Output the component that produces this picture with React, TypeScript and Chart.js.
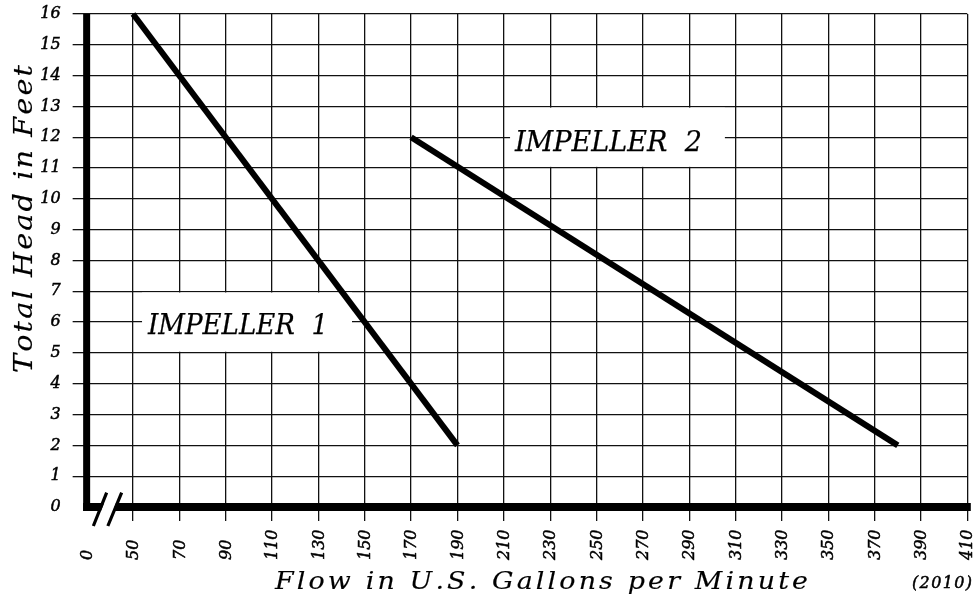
import { useEffect, useRef } from 'react';
import { Chart, registerables } from 'chart.js';

Chart.register(...registerables);

// ---- data ----
const flowTickLabels = ['0', '50', '70', '90', '110', '130', '150', '170', '190', '210', '230', '250', '270', '290', '310', '330', '350', '370', '390', '410'];
const headMin = 0;
const headMax = 16;
const impeller1Flow = [50, 190];
const impeller1Head = [16, 2];
const impeller2Flow = [170, 380];
const impeller2Head = [12, 2];
const curveNames = ['IMPELLER  1', 'IMPELLER  2'];
const xTitle = 'Flow in U.S. Gallons per Minute';
const yTitle = 'Total Head in Feet';
const yearNote = '(2010)';

const FONT = '"DejaVu Serif", "Liberation Serif", serif';
const TICK_STROKE = 0.5;
const TITLE_STROKE = 0.15;

// label boxes in data coordinates
const labelBoxes = [
  { text: curveNames[0], x0: 53.9, x1: 144.5, y0: 5, y1: 7, tx: 56.5, ty: 5.615, tw: 180 },
  { text: curveNames[1], x0: 212.7, x1: 305.4, y0: 11, y1: 13, tx: 214.8, ty: 11.555, tw: 187 },
];

function fillBold(ctx: CanvasRenderingContext2D, text: string, x: number, y: number, sw: number) {
  ctx.fillText(text, x, y);
  if (sw > 0) {
    ctx.lineWidth = sw;
    ctx.strokeStyle = '#000';
    ctx.lineJoin = 'round';
    ctx.strokeText(text, x, y);
  }
}

// draws text from the current origin, glyphs widened by kx, evenly spaced to fill target width
function drawSpaced(ctx: CanvasRenderingContext2D, text: string, target: number, kx: number, sw: number) {
  const chars = Array.from(text);
  const widths = chars.map((c) => ctx.measureText(c).width * kx);
  const sum = widths.reduce((a, b) => a + b, 0);
  const gap = chars.length > 1 ? (target - sum) / (chars.length - 1) : 0;
  let x = 0;
  chars.forEach((c, i) => {
    ctx.save();
    ctx.translate(x, 0);
    ctx.scale(kx, 1);
    fillBold(ctx, c, 0, 0, sw);
    ctx.restore();
    x += widths[i] + gap;
  });
}

const decor = {
  id: 'decor',
  beforeDatasetsDraw(chart: any) {
    const { ctx } = chart;
    const xs = chart.scales.x;
    const ys = chart.scales.y;
    ctx.save();
    for (const b of labelBoxes) {
      const px0 = xs.getPixelForValue(b.x0);
      const px1 = xs.getPixelForValue(b.x1);
      const py0 = ys.getPixelForValue(b.y1);
      const py1 = ys.getPixelForValue(b.y0);
      ctx.fillStyle = '#fff';
      ctx.fillRect(px0, py0 + 1.2, px1 - px0, py1 - py0 - 2.4);
      ctx.fillStyle = '#000';
      ctx.font = `italic 28px ${FONT}`;
      ctx.textAlign = 'left';
      ctx.textBaseline = 'alphabetic';
      const w = ctx.measureText(b.text).width;
      ctx.save();
      ctx.translate(xs.getPixelForValue(b.tx), ys.getPixelForValue(b.ty));
      ctx.scale(b.tw / w, 1);
      fillBold(ctx, b.text, 0, 0, 0.25);
      ctx.restore();
    }
    ctx.restore();
  },
  afterDraw(chart: any) {
    const { ctx, chartArea } = chart;
    const { left, right, top, bottom } = chartArea;
    const xs = chart.scales.x;
    ctx.save();
    ctx.fillStyle = '#000';
    // thick axes
    ctx.fillRect(left - 3.5, top, 7, bottom - top + 4);
    ctx.fillRect(left - 3.5, bottom - 4, right + 3.5 - (left - 3.5), 8);
    // axis break
    ctx.fillStyle = '#fff';
    ctx.beginPath();
    ctx.moveTo(left + 8.5, bottom + 19);
    ctx.lineTo(left + 21.5, bottom - 14.3);
    ctx.lineTo(left + 33, bottom - 14.3);
    ctx.lineTo(left + 21, bottom + 19);
    ctx.closePath();
    ctx.fill();
    ctx.strokeStyle = '#000';
    ctx.lineWidth = 3.2;
    ctx.beginPath();
    ctx.moveTo(left + 6.7, bottom + 19);
    ctx.lineTo(left + 20, bottom - 14.3);
    ctx.moveTo(left + 21.2, bottom + 19);
    ctx.lineTo(left + 35, bottom - 14.3);
    ctx.stroke();

    // x tick labels
    ctx.fillStyle = '#000';
    ctx.font = `italic 16px ${FONT}`;
    ctx.textAlign = 'left';
    ctx.textBaseline = 'middle';
    xs.ticks.forEach((t: any, i: number) => {
      const px = xs.getPixelForValue(t.value);
      ctx.save();
      ctx.translate(px + 1, 560);
      ctx.rotate(-Math.PI / 2);
      fillBold(ctx, flowTickLabels[i] ?? '', 0, 0, TICK_STROKE);
      ctx.restore();
    });

    // titles
    ctx.textBaseline = 'alphabetic';
    ctx.font = `italic 24px ${FONT}`;
    ctx.save();
    ctx.translate(275, 589);
    drawSpaced(ctx, xTitle, 533, 1.12, TITLE_STROKE);
    ctx.restore();

    ctx.font = `italic 26px ${FONT}`;
    ctx.save();
    ctx.translate(32, 373);
    ctx.rotate(-Math.PI / 2);
    drawSpaced(ctx, yTitle, 308, 1.1, TITLE_STROKE);
    ctx.restore();

    ctx.font = `italic 16px ${FONT}`;
    ctx.save();
    ctx.translate(912, 588);
    drawSpaced(ctx, yearNote, 60, 1, TICK_STROKE);
    ctx.restore();
    ctx.restore();
  },
};

const zeroPad = (s: any) => {
  s.paddingTop = 0;
  s.paddingBottom = 0;
  s.paddingLeft = 0;
  s.paddingRight = 0;
};

export default function App() {
  const ref = useRef<HTMLCanvasElement | null>(null);
  useEffect(() => {
    if (!ref.current) return;
    const chart = new Chart(ref.current, {
      type: 'line',
      data: {
        datasets: [
          {
            label: curveNames[0],
            data: impeller1Flow.map((f, i) => ({ x: f, y: impeller1Head[i] })),
            borderColor: '#000',
            borderWidth: 6,
            pointRadius: 0,
            borderCapStyle: 'butt',
            fill: false,
            clip: false as any,
          },
          {
            label: curveNames[1],
            data: impeller2Flow.map((f, i) => ({ x: f, y: impeller2Head[i] })),
            borderColor: '#000',
            borderWidth: 6,
            pointRadius: 0,
            borderCapStyle: 'butt',
            fill: false,
            clip: false as any,
          },
        ],
      },
      options: {
        responsive: false,
        animation: false,
        devicePixelRatio: 1,
        layout: { padding: { left: 0, top: 14, right: 9.7, bottom: 0 }, autoPadding: false },
        plugins: { legend: { display: false }, tooltip: { enabled: false } },
        scales: {
          x: {
            type: 'linear',
            min: 30,
            max: 410,
            ticks: { stepSize: 20, display: false },
            grid: {
              color: (c: any) => (c.tick && c.tick.value === 30 ? 'rgba(0,0,0,0)' : '#111'),
              lineWidth: 1.3,
              tickLength: 14,
            },
            border: { display: false },
            afterFit: (s: any) => {
              s.height = 92;
              zeroPad(s);
            },
          },
          y: {
            type: 'linear',
            min: headMin,
            max: headMax,
            ticks: {
              stepSize: 1,
              padding: 12,
              color: '#000',
              textStrokeColor: '#000',
              textStrokeWidth: TICK_STROKE,
              font: { family: FONT, size: 16, style: 'italic' },
            },
            grid: {
              color: (c: any) => (c.tick && c.tick.value === 0 ? 'rgba(0,0,0,0)' : '#111'),
              lineWidth: 1.3,
              tickLength: 14,
            },
            border: { display: false },
            afterFit: (s: any) => {
              s.width = 86.65;
              zeroPad(s);
            },
          },
        },
      } as any,
      plugins: [decor],
    });
    return () => chart.destroy();
  }, []);
  return (
    <div style={{ position: 'absolute', left: 0, top: 0, width: 977, height: 599, background: '#fff' }}>
      <canvas ref={ref} width={977} height={599} style={{ display: 'block' }} />
    </div>
  );
}
